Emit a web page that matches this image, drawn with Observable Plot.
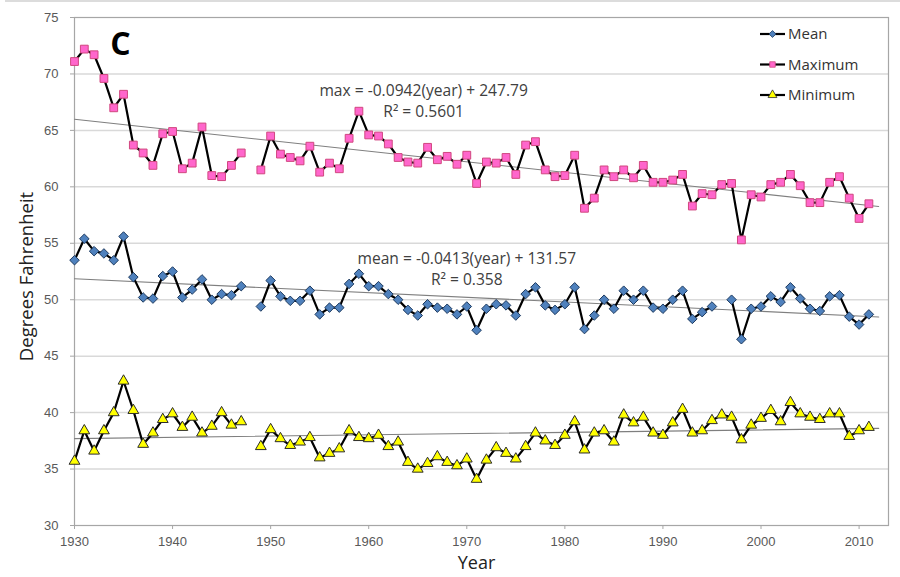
<!DOCTYPE html>
<html>
<head>
<meta charset="utf-8">
<script src="https://cdn.jsdelivr.net/npm/d3@7"></script>
<script src="https://cdn.jsdelivr.net/npm/@observablehq/plot@0.6"></script>
<style>
  html, body { margin: 0; padding: 0; background: #fff; }
  #chart { width: 900px; height: 577px; }
  #chart svg { display: block; }
</style>
</head>
<body>
<div id="chart"></div>
<script>
// Annual temperatures, 1930–2011 (null = no record that year)
const years = d3.range(1930, 2012);

const maxTemp = [
  71.1, 72.2, 71.7, 69.6, 67.0, 68.2, 63.7, 63.0, 61.9, 64.7,
  64.9, 61.6, 62.1, 65.3, 61.0, 60.9, 61.9, 63.0, null, 61.5,
  64.5, 62.9, 62.6, 62.3, 63.6, 61.3, 62.1, 61.6, 64.3, 66.7,
  64.6, 64.5, 63.8, 62.6, 62.2, 62.1, 63.5, 62.4, 62.7, 62.0,
  62.8, 60.3, 62.2, 62.1, 62.6, 61.1, 63.7, 64.0, 61.5, 60.9,
  61.0, 62.8, 58.1, 59.0, 61.5, 60.9, 61.5, 60.8, 61.9, 60.4,
  60.4, 60.6, 61.1, 58.3, 59.4, 59.3, 60.2, 60.3, 55.3, 59.3,
  59.1, 60.2, 60.4, 61.1, 60.1, 58.6, 58.6, 60.4, 60.9, 59.0,
  57.2, 58.5
];

const meanTemp = [
  53.5, 55.4, 54.3, 54.1, 53.5, 55.6, 52.0, 50.2, 50.1, 52.1,
  52.5, 50.2, 50.9, 51.8, 50.0, 50.5, 50.4, 51.2, null, 49.4,
  51.7, 50.3, 49.9, 49.9, 50.8, 48.7, 49.3, 49.3, 51.4, 52.3,
  51.2, 51.2, 50.5, 50.0, 49.1, 48.6, 49.6, 49.3, 49.2, 48.7,
  49.4, 47.3, 49.2, 49.6, 49.5, 48.6, 50.5, 51.1, 49.5, 49.1,
  49.6, 51.1, 47.4, 48.6, 50.0, 49.2, 50.8, 50.0, 50.8, 49.3,
  49.2, 50.0, 50.8, 48.3, 48.9, 49.4, null, 50.0, 46.5, 49.2,
  49.4, 50.3, 49.8, 51.1, 50.1, 49.2, 49.0, 50.3, 50.4, 48.5,
  47.8, 48.7
];

const minTemp = [
  35.7, 38.4, 36.6, 38.4, 40.0, 42.8, 40.2, 37.2, 38.2, 39.4,
  39.9, 38.7, 39.6, 38.2, 38.8, 40.0, 38.9, 39.2, null, 37.0,
  38.5, 37.7, 37.1, 37.4, 37.8, 36.0, 36.4, 36.8, 38.4, 37.8,
  37.7, 38.0, 37.0, 37.4, 35.6, 35.0, 35.5, 36.1, 35.6, 35.3,
  35.9, 34.1, 35.8, 36.9, 36.4, 35.9, 37.0, 38.2, 37.5, 37.1,
  38.0, 39.2, 36.7, 38.2, 38.4, 37.4, 39.8, 39.1, 39.6, 38.2,
  38.0, 39.1, 40.3, 38.2, 38.4, 39.3, 39.8, 39.6, 37.6, 38.9,
  39.5, 40.2, 39.2, 40.9, 39.9, 39.6, 39.4, 39.9, 39.9, 37.9,
  38.4, 38.7
];

// Linear trends (slope per year, intercept) and the years they span
const trendSlopes     = { max: -0.0942, mean: -0.0413, min: 0.011 };
const trendIntercepts = { max: 247.79,  mean: 131.57,  min: 16.47 };
const trendYears = [1930, 2012];

const equationText = {
  max:  "max = -0.0942(year) + 247.79\nR\u00B2 = 0.5601",
  mean: "mean = -0.0413(year) + 131.57\nR\u00B2 = 0.358"
};

const xTicks = [1930, 1940, 1950, 1960, 1970, 1980, 1990, 2000, 2010];
const yTicks = [30, 35, 40, 45, 50, 55, 60, 65, 70, 75];

// Series styling
const series = [
  { key: "mean", name: "Mean",    values: meanTemp, symbol: "diamond2", fill: "#4f81bd", stroke: "#1d3a5f", r: 4.3 },
  { key: "max",  name: "Maximum", values: maxTemp,  symbol: "square",   fill: "#ff66cc", stroke: "#d1477f", r: 4.4 },
  { key: "min",  name: "Minimum", values: minTemp,  symbol: "triangle", fill: "#ffff00", stroke: "#2b2b2b", r: 4.0 }
];

const rows = years.map((year, i) => ({
  year, mean: meanTemp[i], max: maxTemp[i], min: minTemp[i]
}));

const trendRows = ["max", "mean", "min"].flatMap(k =>
  trendYears.map(year => ({ key: k, year, value: trendSlopes[k] * year + trendIntercepts[k] }))
);

const calibriLike = "'Open Sans', 'Noto Sans', sans-serif";
const tickFont = "'Liberation Sans', Arial, sans-serif";

const chart = Plot.plot({
  width: 900,
  height: 577,
  marginLeft: 74,
  marginRight: 12,
  marginTop: 17,
  marginBottom: 52,
  style: { background: "#fff", fontFamily: tickFont, fontSize: "13px", color: "#595959" },
  x: { domain: [1930, 2013] },
  y: { domain: [30, 75] },
  marks: [
    Plot.gridY(yTicks.filter(t => t > 30 && t < 75), { stroke: "#d9d9d9", strokeOpacity: 1, strokeWidth: 1.5 }),
    Plot.frame({ stroke: "#a6a6a6", strokeWidth: 1.2 }),
    Plot.axisY({ ticks: yTicks, tickSize: 4, tickPadding: 12, label: null, stroke: "#a6a6a6", fill: "#595959", fontSize: 13 }),
    Plot.axisX({ ticks: xTicks, tickFormat: "d", tickSize: 4, tickPadding: 7, label: null, stroke: "#a6a6a6", fill: "#595959", fontSize: 13 }),

    // trend lines
    Plot.line(trendRows, { x: "year", y: "value", z: "key", stroke: "#7f7f7f", strokeWidth: 1.1 }),

    // series lines and markers
    ...series.flatMap(s => [
      Plot.line(rows, { x: "year", y: s.key, stroke: "#000", strokeWidth: 2.2, curve: "linear" }),
      Plot.dot(rows.filter(d => d[s.key] != null), {
        x: "year", y: s.key, symbol: () => s.symbol, r: s.r,
        fill: s.fill, stroke: s.stroke, strokeWidth: 1, fillOpacity: 1
      })
    ]),

    // trend equations
    Plot.text([{ x: 1965.6, y: 67.7, t: equationText.max }], {
      x: "x", y: "y", text: "t", textAnchor: "middle", lineHeight: 1.3,
      fontFamily: calibriLike, fontSize: 15.6, fill: "#404040"
    }),
    Plot.text([{ x: 1970.0, y: 52.8, t: equationText.mean }], {
      x: "x", y: "y", text: "t", textAnchor: "middle", lineHeight: 1.3,
      fontFamily: calibriLike, fontSize: 15.6, fill: "#404040"
    }),

    // panel letter
    Plot.text(["C"], {
      frameAnchor: "top-left", dx: 46, dy: 27, textAnchor: "middle", lineAnchor: "middle",
      fontFamily: calibriLike, fontWeight: "bold", fontSize: 32, fill: "#000"
    }),

    // axis titles
    Plot.text(["Degrees Fahrenheit"], {
      frameAnchor: "left", dx: -47, dy: 5, rotate: -90, textAnchor: "middle",
      fontFamily: calibriLike, fontSize: 18.5, fill: "#222"
    }),
    Plot.text(["Year"], {
      frameAnchor: "bottom", dx: -5, dy: 43, textAnchor: "middle",
      fontFamily: calibriLike, fontSize: 18, fill: "#222"
    })
  ]
});

// Legend in the upper right corner of the plot area
const svg = d3.select(chart);
const symbolType = { diamond2: d3.symbolDiamond2, square: d3.symbolSquare, triangle: d3.symbolTriangle };
const legend = svg.append("g").attr("transform", "translate(760, 34)");
series.forEach((s, i) => {
  const g = legend.append("g").attr("transform", `translate(0, ${i * 30.5})`);
  g.append("line").attr("x1", 0).attr("x2", 25).attr("y1", 0).attr("y2", 0)
    .attr("stroke", "#000").attr("stroke-width", 2.2);
  g.append("path").attr("transform", "translate(12.5, 0)")
    .attr("d", d3.symbol().type(symbolType[s.symbol]).size(s.symbol === "triangle" ? 34 : 30)())
    .attr("fill", s.fill).attr("stroke", s.stroke).attr("stroke-width", 0.8);
  g.append("text").attr("x", 28).attr("y", 0).attr("dy", "0.35em")
    .attr("text-anchor", "start")
    .attr("font-family", calibriLike).attr("font-size", 15).attr("fill", "#333")
    .text(s.name);
});

// thin rule along the top edge of the figure
svg.append("line").attr("x1", 5).attr("x2", 900).attr("y1", 1).attr("y2", 1)
  .attr("stroke", "#d0d0d0").attr("stroke-width", 1.5);

document.getElementById("chart").append(chart);
</script>
</body>
</html>
